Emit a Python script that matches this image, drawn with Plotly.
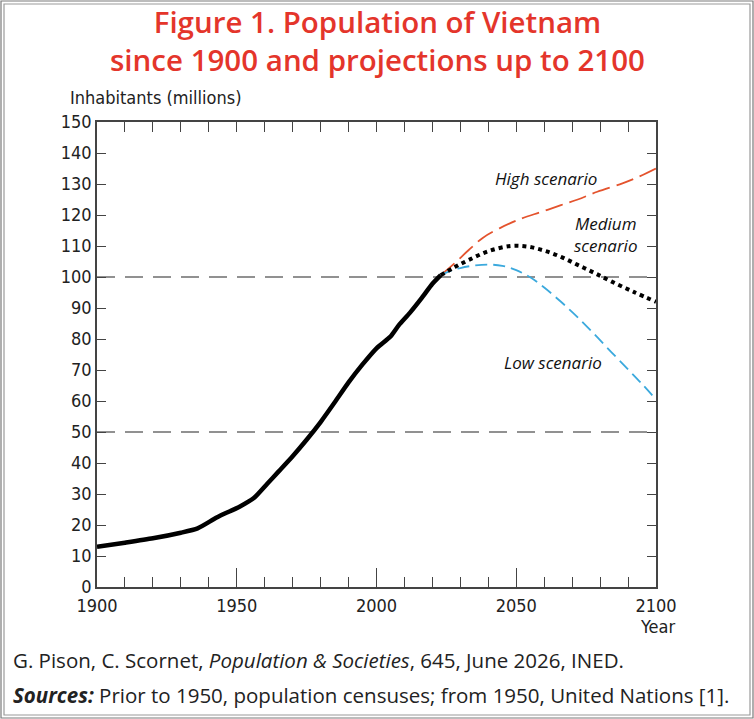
import plotly.graph_objects as go

# ---- data ----
hist_years = [1900, 1910, 1920, 1930, 1936, 1943, 1951, 1956, 1961, 1965, 1970, 1975, 1980,
              1985, 1990, 1995, 2000, 2005, 2008, 2012, 2016, 2020, 2023]
hist_pop = [13.0, 14.3, 15.7, 17.5, 18.9, 22.5, 25.9, 28.6, 33.4, 37.3, 42.2, 47.5, 53.2,
            59.5, 66.0, 71.8, 77.0, 80.8, 84.5, 88.5, 93.0, 97.8, 100.6]

high_years = [2023, 2028, 2033, 2038, 2044, 2052, 2059, 2066, 2072, 2079, 2088, 2094, 2100]
high_pop = [100.6, 104.5, 108.7, 112.6, 115.7, 118.9, 121.0, 123.2, 125.0, 127.5, 130.2, 132.4, 135.0]

med_years = [2023, 2028, 2033, 2040, 2048, 2054, 2060, 2066, 2072, 2078, 2084, 2092, 2100]
med_pop = [100.6, 103.2, 105.5, 108.3, 110.0, 109.8, 108.5, 106.5, 103.9, 101.3, 98.6, 95.2, 92.0]

low_years = [2023, 2026, 2030, 2035, 2040, 2045, 2050, 2055, 2060, 2066, 2072, 2078, 2084, 2090, 2095, 2100]
low_pop = [100.6, 101.8, 102.9, 103.7, 104.0, 103.6, 102.2, 99.9, 96.6, 92.0, 87.0, 81.5, 75.8, 70.2, 65.5, 60.5]

x_ticks = [1900, 1950, 2000, 2050, 2100]
y_ticks = list(range(0, 151, 10))
ref_levels = [50, 100]

# ---- layout geometry (pixels) ----
W, H = 754, 719
L, R, T, B = 97, 656, 122, 587
pw, ph = R - L, B - T

def px(x):
    return (x - L) / pw

def py(y):
    return (B - y) / ph

TICK_FONT = "Liberation Sans Narrow, DejaVu Sans Condensed, Arial Narrow, sans-serif"
RED = "#e4352b"
AX = "#444"

fig = go.Figure()

fig.add_trace(go.Scatter(x=hist_years, y=hist_pop, mode="lines",
                         line=dict(color="black", width=4.5, shape="spline", smoothing=0.6),
                         hoverinfo="skip"))
fig.add_trace(go.Scatter(x=high_years, y=high_pop, mode="lines",
                         line=dict(color="#e4532d", width=1.8, dash="18px,7px", shape="spline"),
                         hoverinfo="skip"))
fig.add_trace(go.Scatter(x=low_years, y=low_pop, mode="lines",
                         line=dict(color="#3ba9dd", width=1.8, dash="12px,6px", shape="spline"),
                         hoverinfo="skip"))
fig.add_trace(go.Scatter(x=med_years, y=med_pop, mode="lines",
                         line=dict(color="black", width=4, dash="4px,4px", shape="spline"),
                         hoverinfo="skip"))
# invisible trace so the top tick axis is drawn
fig.add_trace(go.Scatter(x=[x_ticks[0], x_ticks[-1]], y=[y_ticks[0], y_ticks[0]], mode="lines",
                         line=dict(width=0), opacity=0, xaxis="x2", hoverinfo="skip"))

shapes = []
for lv in ref_levels:
    shapes.append(dict(type="line", xref="paper", yref="y", x0=0, x1=1, y0=lv, y1=lv,
                       line=dict(color="#6e6e6e", width=1.5, dash="18px,10px"), layer="below"))
# outer double frame
for inset, col in [(1, "#7a7a7a"), (4, "#9a9a9a")]:
    shapes.append(dict(type="rect", xref="paper", yref="paper",
                       x0=px(inset), x1=px(W - inset), y0=py(H - inset), y1=py(inset),
                       line=dict(color=col, width=1.2), layer="below"))
fig.update_layout(shapes=shapes)

ann = []
ann.append(dict(text="Figure 1. Population of Vietnam<br>since 1900 and projections up to 2100",
                x=px(377), y=py(40),
                font=dict(family="Open Sans", size=29.5, color=RED, weight=600)))
ann.append(dict(text="Inhabitants (millions)", x=px(68), y=py(97), xanchor="left",
                font=dict(family=TICK_FONT, size=18, color="#222")))
ann.append(dict(text="Year", x=px(677), y=py(626), xanchor="right",
                font=dict(family=TICK_FONT, size=18, color="#222")))
ann.append(dict(text="<i>High scenario</i>", x=px(546), y=py(178),
                font=dict(family="Open Sans", size=17, color="#111")))
ann.append(dict(text="<i>Medium<br>scenario</i>", x=px(605), y=py(234),
                font=dict(family="Open Sans", size=17, color="#111")))
ann.append(dict(text="<i>Low scenario</i>", x=px(553), y=py(362),
                font=dict(family="Open Sans", size=17, color="#111")))
ann.append(dict(text="G. Pison, C. Scornet, <i>Population & Societies</i>, 645, June 2026, INED.",
                x=px(11), y=py(660), xanchor="left",
                font=dict(family="Open Sans", size=20.5, color="#222")))
ann.append(dict(text="<b><i>Sources:</i></b> Prior to 1950, population censuses; from 1950, United Nations [1].",
                x=px(11), y=py(695), xanchor="left",
                font=dict(family="Open Sans", size=20.5, color="#222")))
for a in ann:
    a.setdefault("xanchor", "center")
    a.update(xref="paper", yref="paper", yanchor="middle", showarrow=False)
fig.update_layout(annotations=ann)

fig.update_layout(
    width=W, height=H,
    margin=dict(l=L, r=W - R, t=T, b=H - B),
    paper_bgcolor="white", plot_bgcolor="white",
    showlegend=False,
    xaxis=dict(range=[1900, 2100], tickvals=x_ticks, ticks="inside", ticklen=19,
               tickcolor=AX, tickwidth=1.3,
               minor=dict(dtick=10, tick0=1900, ticks="inside", ticklen=10,
                          tickcolor=AX, tickwidth=1.3, showgrid=False),
               showline=True, linecolor=AX, linewidth=1.5, mirror=True,
               showgrid=False, zeroline=False, ticklabelstandoff=2,
               tickfont=dict(family=TICK_FONT, size=18, color="#222")),
    xaxis2=dict(range=[1900, 2100], overlaying="x", side="top", anchor="y",
                dtick=10, tick0=1900, ticks="inside", ticklen=10,
                tickcolor=AX, tickwidth=1.3, showticklabels=False,
                showline=False, showgrid=False, zeroline=False),
    yaxis=dict(range=[0, 150], tickvals=y_ticks, ticks="inside", ticklen=9,
               tickcolor=AX, tickwidth=1.3,
               showline=True, linecolor=AX, linewidth=1.5, mirror="ticks",
               showgrid=False, zeroline=False,
               tickfont=dict(family=TICK_FONT, size=18, color="#222")),
)

fig.write_html("out.html")
